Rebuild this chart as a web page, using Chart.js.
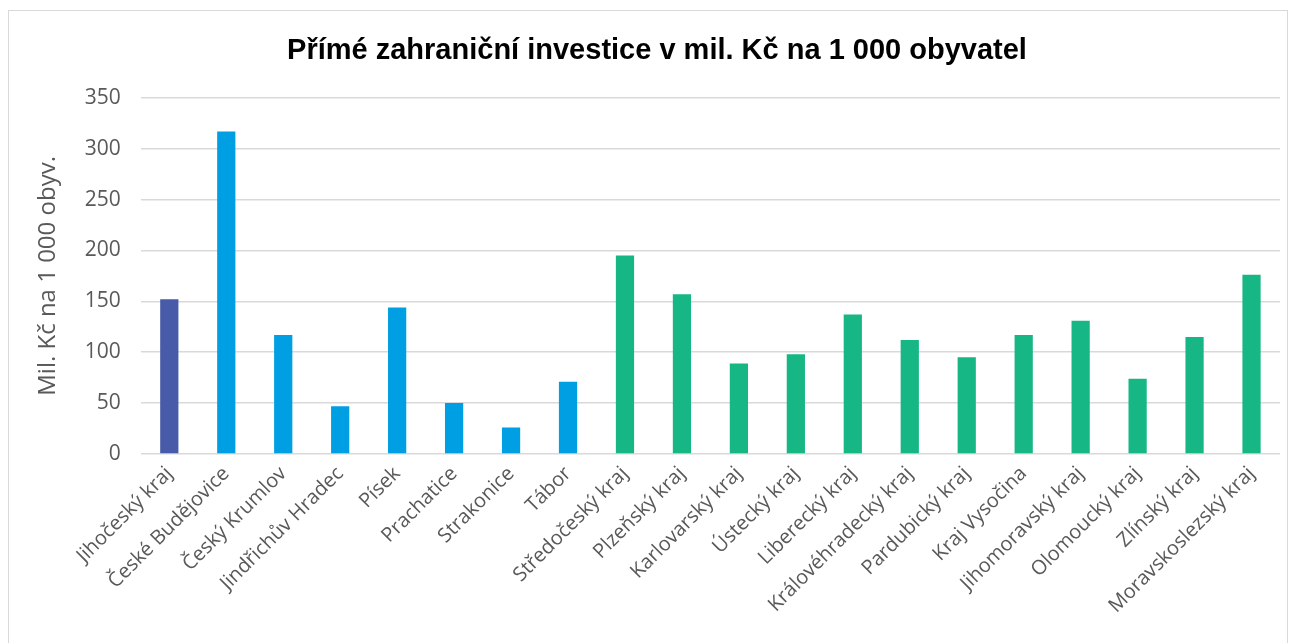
<!DOCTYPE html>
<html>
<head>
<meta charset="utf-8">
<script src="https://cdn.jsdelivr.net/npm/chart.js@4.4.0/dist/chart.umd.min.js"></script>
<style>
    html, body { margin: 0; padding: 0; background: #ffffff; }
    #frame {
        position: absolute;
        left: 8px;
        top: 10px;
        width: 1280px;
        height: 650px;
        border: 1px solid #d9d9d9;
        box-sizing: border-box;
    }
    #wrap {
        position: absolute;
        left: 0;
        top: 0;
        width: 1298px;
        height: 643px;
    }
</style>
</head>
<body>
<div id="frame"></div>
<div id="wrap"><canvas id="fdiChart"></canvas></div>
<script>
// Data
const categories = [
    'Jihočeský kraj', 'České Budějovice', 'Český Krumlov', 'Jindřichův Hradec',
    'Písek', 'Prachatice', 'Strakonice', 'Tábor',
    'Středočeský kraj', 'Plzeňský kraj', 'Karlovarský kraj', 'Ústecký kraj',
    'Liberecký kraj', 'Královéhradecký kraj', 'Pardubický kraj', 'Kraj Vysočina',
    'Jihomoravský kraj', 'Olomoucký kraj', 'Zlínský kraj', 'Moravskoslezský kraj'
];
const values = [152, 317, 117, 47, 144, 50, 26, 71, 195, 157, 89, 98, 137, 112, 95, 117, 131, 74, 115, 176];
// 0 = South Bohemian region, 1 = its districts, 2 = other regions
const groups = [0, 1, 1, 1, 1, 1, 1, 1, 2, 2, 2, 2, 2, 2, 2, 2, 2, 2, 2, 2];
const yTicks = [0, 50, 100, 150, 200, 250, 300, 350];

const groupColors = ['#475ba8', '#009fe3', '#16b784'];

document.addEventListener('DOMContentLoaded', function() {
    initializeFdiChart();
});

function initializeFdiChart() {
    const ctx = document.getElementById('fdiChart').getContext('2d');
    new Chart(ctx, {
        type: 'bar',
        data: {
            labels: categories,
            datasets: [{
                label: 'Mil. Kč na 1 000 obyv.',
                data: values,
                backgroundColor: groups.map(function(g) { return groupColors[g]; }),
                borderWidth: 0,
                barPercentage: 0.32,
                categoryPercentage: 1.0
            }]
        },
        options: {
            responsive: true,
            maintainAspectRatio: false,
            animation: false,
            layout: {
                padding: { left: 34, right: 18, top: 34, bottom: 17 }
            },
            plugins: {
                legend: { display: false },
                tooltip: { enabled: false },
                title: {
                    display: true,
                    text: 'Přímé zahraniční investice v mil. Kč na 1 000 obyvatel',
                    color: '#000000',
                    font: { family: '"Liberation Sans", Arial, sans-serif', size: 29, weight: 'bold' },
                    padding: { top: 0, bottom: 29 }
                }
            },
            scales: {
                y: {
                    min: 0,
                    max: 350,
                    afterBuildTicks: function(axis) {
                        axis.ticks = yTicks.map(function(v) { return { value: v }; });
                    },
                    border: { display: false },
                    grid: {
                        color: '#d9d9d9',
                        lineWidth: 1.5,
                        drawTicks: false
                    },
                    ticks: {
                        color: '#595959',
                        padding: 20,
                        font: { family: '"Open Sans", sans-serif', size: 21 }
                    },
                    title: {
                        display: true,
                        text: 'Mil. Kč na 1 000 obyv.',
                        color: '#595959',
                        padding: { top: 0, bottom: 2 },
                        font: { family: '"Open Sans", sans-serif', size: 24 }
                    }
                },
                x: {
                    border: { display: false },
                    grid: { display: false, drawTicks: false },
                    // rotated first label may hang past the y axis, as in the original
                    afterFit: function(scale) {
                        scale.paddingLeft = 0;
                    },
                    ticks: {
                        color: '#595959',
                        maxRotation: 45,
                        minRotation: 45,
                        autoSkip: false,
                        padding: 8,
                        font: { family: '"Open Sans", sans-serif', size: 20 }
                    }
                }
            }
        }
    });
}
</script>
</body>
</html>
